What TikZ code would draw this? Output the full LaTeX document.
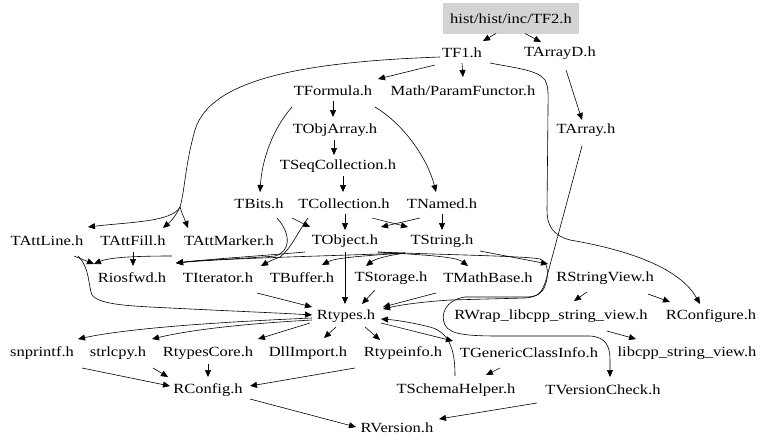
\documentclass[tikz,border=0pt]{standalone}
\usepackage{fontspec}
\newfontfamily\dxfont[FakeStretch=1.18]{Liberation Serif}
\usetikzlibrary{arrows.meta,calc}
\definecolor{boxgray}{RGB}{211,211,211}
\tikzset{
  file/.style={inner sep=0pt, font=\dxfont\fontsize{14}{16}\selectfont},
  e/.style={draw, line width=0.6pt, -{Triangle[length=7pt,width=6pt]}},
  ln/.style={draw, line width=0.6pt},
}
\begin{document}
\begin{tikzpicture}[x=1pt,y=-1pt]
\useasboundingbox (0,0) rectangle (768,447);
\node[file, fill=boxgray, minimum width=136pt, minimum height=31pt] (tf2) at (511,18.5) {hist/hist/inc/TF2.h};
\node[file] (tf1) at (462,53) {TF1.h};
\node[file] (tarrayd) at (560,53) {TArrayD.h};
\node[file] (tformula) at (333,91) {TFormula.h};
\node[file] (param) at (463,91) {Math/ParamFunctor.h};
\node[file] (tobjarray) at (335,130) {TObjArray.h};
\node[file] (tarray) at (586,130) {TArray.h};
\node[file] (tseq) at (338,166) {TSeqCollection.h};
\node[file] (tbits) at (259,204) {TBits.h};
\node[file] (tcoll) at (344,204) {TCollection.h};
\node[file] (tnamed) at (442,204) {TNamed.h};
\node[file] (tattline) at (47,241) {TAttLine.h};
\node[file] (tattfill) at (133,241) {TAttFill.h};
\node[file] (tattmarker) at (229,241) {TAttMarker.h};
\node[file] (tobject) at (345,241) {TObject.h};
\node[file] (tstring) at (442,241) {TString.h};
\node[file] (riosfwd) at (132,278) {Riosfwd.h};
\node[file] (titerator) at (218,278) {TIterator.h};
\node[file] (tbuffer) at (302,278) {TBuffer.h};
\node[file] (tstorage) at (391,278) {TStorage.h};
\node[file] (tmathbase) at (488,278) {TMathBase.h};
\node[file] (rstringview) at (605,278) {RStringView.h};
\node[file] (rtypes) at (346,316) {Rtypes.h};
\node[file] (rwrap) at (551,316) {RWrap\_libcpp\_string\_view.h};
\node[file] (rconfigure) at (711,316) {RConfigure.h};
\node[file] (snprintf) at (42,353) {snprintf.h};
\node[file] (strlcpy) at (118,353) {strlcpy.h};
\node[file] (rtypescore) at (208,353) {RtypesCore.h};
\node[file] (dllimport) at (308,353) {DllImport.h};
\node[file] (rtypeinfo) at (403,353) {Rtypeinfo.h};
\node[file] (tgeneric) at (529,353) {TGenericClassInfo.h};
\node[file] (libcpp) at (687,353) {libcpp\_string\_view.h};
\node[file] (rconfig) at (208,390) {RConfig.h};
\node[file] (tschema) at (456,390) {TSchemaHelper.h};
\node[file] (tversion) at (603,390) {TVersionCheck.h};
\node[file] (rversion) at (397,428) {RVersion.h};
\coordinate (split) at (180,207);

% top
\draw[e] ($(tf2)+(-15,15)$) -- ($(tf1)+(21,-12)$);
\draw[e] ($(tf2)+(14,15)$) -- ($(tarrayd)+(-19,-11)$);
\draw[e] ($(tf1)+(-27,12)$) -- ($(tformula)+(45,-12)$);
\draw[e] ($(tf1)+(0,10)$) -- ($(param)+(0,-14)$);
\draw[ln] ($(tf1)+(-22,4)$) .. controls (300,62) and (210,80) .. (195,130) .. controls (185,165) and (185,190) .. (split);
\draw[e] (split) .. controls (172,222) and (130,222) .. ($(tattline)+(41,-14)$);
\draw[e] (split) .. controls (176,216) and (170,222) .. ($(tattfill)+(30,-13)$);
\draw[e] (split) .. controls (182,214) and (185,220) .. ($(tattmarker)+(-41,-13)$);
\draw[e] ($(tf1)+(28,10)$) .. controls (515,68) and (538,70) .. (545,80) .. controls (549,88) and (548,95) .. (548,110) -- (547,210) .. controls (547,225) and (552,235) .. (570,240) .. controls (640,252) and (682,272) .. ($(rconfigure)+(-11,-12)$);
\draw[e] ($(tarrayd)+(6,17)$) -- ($(tarray)+(-4,-10)$);
\draw[e] ($(tarray)+(-4,16)$) -- (546,280) .. controls (542,293) and (538,297) .. (525,298) -- (450,300) .. controls (420,302) and (400,305) .. ($(rtypes)+(37,-7)$);

% TFormula subtree
\draw[e] ($(tformula)+(0,10)$) -- ($(tobjarray)+(-2,-13)$);
\draw[e] ($(tobjarray)+(-1,10)$) -- ($(tseq)+(-4,-11)$);
\draw[e] ($(tseq)+(5,10)$) -- ($(tcoll)+(-1,-12)$);
\draw[e] ($(tformula)+(-41,16)$) .. controls (272,130) and (262,160) .. ($(tbits)+(1,-12)$);
\draw[e] ($(tformula)+(42,16)$) .. controls (405,125) and (428,160) .. ($(tnamed)+(-6,-12)$);
\draw[e] ($(tbits)+(33,14)$) -- ($(tobject)+(-35,-14)$);
\draw[e] ($(tcoll)+(1,10)$) -- ($(tobject)+(0,-11)$);
\draw[e] ($(tcoll)+(28,14)$) -- ($(tstring)+(-34,-14)$);
\draw[e] ($(tnamed)+(-22,14)$) -- ($(tobject)+(36,-14)$);
\draw[e] ($(tnamed)+(0,10)$) -- ($(tstring)+(0,-11)$);

% bundle around row 257
\draw[e] ($(tcoll)+(-36,14)$) .. controls (298,232) and (290,250) .. (280,257) .. controls (272,260) and (268,262) .. ($(titerator)+(43,-12)$);
\draw[e] ($(tbits)+(18,14)$) .. controls (292,235) and (290,252) .. (275,256) .. controls (240,259) and (200,260) .. ($(riosfwd)+(44,-15)$);
\draw[e] ($(tobject)+(-40,11)$) .. controls (260,256) and (210,259) .. ($(riosfwd)+(44,-15)$);
\draw[e] ($(tstring)+(-37,12)$) .. controls (330,256) and (230,258) .. ($(riosfwd)+(44,-15)$);
\draw[e] ($(tstring)+(-37,12)$) .. controls (360,256) and (335,258) .. ($(tbuffer)+(20,-13)$);
\draw[e] ($(tstring)+(-37,12)$) .. controls (385,256) and (375,259) .. ($(tstorage)+(-25,-12)$);
\draw[e] ($(tobject)+(33,11)$) .. controls (420,255) and (455,256) .. ($(tmathbase)+(-20,-12)$);
\draw[e] ($(tobject)+(33,11)$) .. controls (450,255) and (525,256) .. (540,259) .. controls (550,263) and (548,278) .. (545,286) .. controls (542,293) and (538,297) .. (525,297) -- (465,297) .. controls (445,300) and (440,315) .. (445,325) .. controls (450,335) and (470,336) .. (500,336) -- (590,336) .. controls (605,337) and (610,345) .. (610,360) -- ($(tversion)+(7,-13)$);
\draw[e] ($(tstring)+(38,10)$) -- ($(rstringview)+(-57,-14)$);

% into Rtypes
\draw[e] ($(tobject)+(0,11)$) -- ($(rtypes)+(-1,-12)$);
\draw[e] ($(tstorage)+(-16,12)$) -- ($(rtypes)+(16,-12)$);
\draw[e] ($(tmathbase)+(-52,15)$) -- ($(rtypes)+(37,-9)$);
\draw[e] ($(titerator)+(39,15)$) -- ($(rtypes)+(-34,-9)$);
\draw[e] ($(tattline)+(31,15)$) .. controls (90,268) and (88,285) .. (92,295) .. controls (100,305) and (130,306) .. (170,308) .. controls (230,311) and (280,313) .. ($(rtypes)+(-34,-1)$);
\draw[e] ($(tattline)+(27,15)$) -- ($(riosfwd)+(-38,-14)$);
\draw[e] ($(tattfill)+(0,11)$) -- ($(riosfwd)+(1,-12)$);
\draw[e] ($(tattmarker)+(-57,15)$) .. controls (140,256) and (110,257) .. ($(riosfwd)+(-38,-14)$);

% right side
\draw[e] ($(rstringview)+(-18,14)$) -- ($(rwrap)+(23,-15)$);
\draw[e] ($(rstringview)+(43,16)$) -- ($(rconfigure)+(-41,-14)$);
\draw[e] ($(rwrap)+(56,15)$) -- ($(libcpp)+(-51,-14)$);

% out of Rtypes
\draw[e] ($(rtypes)+(-34,2)$) .. controls (220,322) and (130,328) .. ($(snprintf)+(36,-14)$);
\draw[e] ($(rtypes)+(-34,4)$) .. controls (240,324) and (190,330) .. ($(strlcpy)+(34,-14)$);
\draw[e] ($(rtypes)+(-36,7)$) -- ($(rtypescore)+(50,-14)$);
\draw[e] ($(rtypes)+(-10,11)$) -- ($(dllimport)+(16,-15)$);
\draw[e] ($(rtypes)+(19,11)$) -- ($(rtypeinfo)+(-23,-13)$);
\draw[e] ($(rtypes)+(35,7)$) -- ($(tgeneric)+(-76,-12)$);
\draw[e] ($(tschema)+(-1,-14)$) .. controls (455,355) and (452,333) .. (430,327) .. controls (410,322) and (395,320) .. ($(rtypes)+(35,3)$);
\draw[e] ($(tgeneric)+(-29,15)$) -- ($(tschema)+(30,-15)$);

% bottom
\draw[e] ($(snprintf)+(40,15)$) -- ($(rconfig)+(-38,-4)$);
\draw[e] ($(strlcpy)+(35,15)$) -- ($(rconfig)+(-40,-13)$);
\draw[e] ($(rtypescore)+(0,11)$) -- ($(rconfig)+(0,-13)$);
\draw[e] ($(rtypeinfo)+(-48,15)$) -- ($(rconfig)+(42,-4)$);
\draw[e] ($(rconfig)+(42,9)$) -- ($(rversion)+(-41,-1)$);
\draw[e] ($(tversion)+(-66,13)$) -- ($(rversion)+(42,-9)$);
\end{tikzpicture}
\end{document}
